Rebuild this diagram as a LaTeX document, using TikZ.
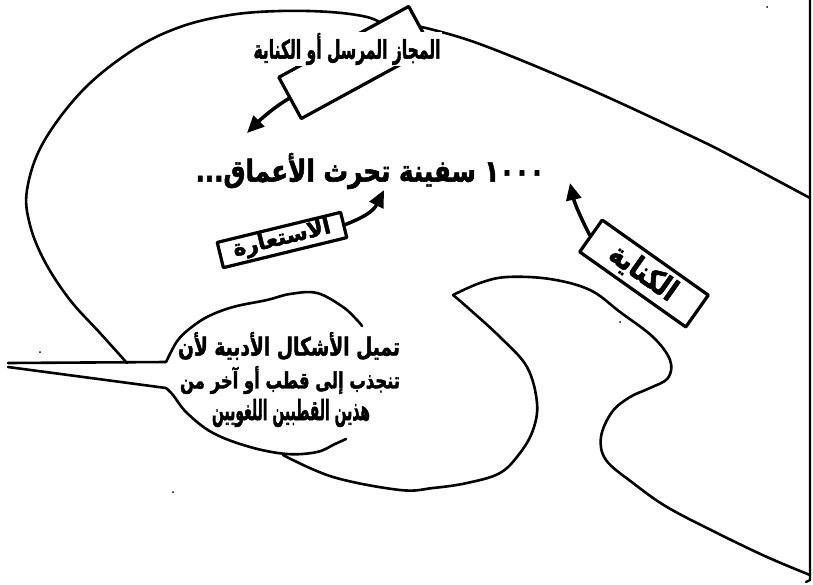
\documentclass[tikz,border=0pt]{standalone}
\usepackage{fontspec}
\usepackage{graphicx}
\usetikzlibrary{arrows.meta}
\newfontfamily\arabicfont[Script=Arabic,BoldFeatures={FakeBold=2}]{DejaVu Sans}
\TeXXeTstate=1
\newcommand\artxt[3]{\resizebox*{#1}{#2}{\arabicfont\bfseries #3}}
\begin{document}
\begin{tikzpicture}[x=1pt,y=-1pt,line join=round,line cap=round,
  curve/.style={line width=2.6pt},
  lblbox/.style={draw,line width=3.2pt,fill=white,inner sep=0pt},
  lbltext/.style={inner sep=0pt},
  arr/.style={line width=3.5pt,-{Triangle[length=17pt,width=15pt]}}]
\useasboundingbox (0,0) rectangle (813,584);
% right border
\draw[line width=2.4pt] (810,0) -- (810,580) -- (806,582);
% outer curve, upper right part
\draw[curve] plot[smooth,tension=0.6] coordinates {(810,198) (733,157) (693,137) (587,88) (477,43) (413,25)};
% outer curve, top and left part
\draw[curve] plot[smooth,tension=0.6] coordinates {(385,25) (367,17) (330,12) (280,11) (230,15) (180,27) (133,50) (83,90) (43,143) (27,190) (30,225) (45,262) (70,300) (100,333) (127,363)};
% bubble tail and bubble
\draw[curve] (8,363) -- (166,362);
\draw[curve] plot[smooth,tension=0.6] coordinates {(166,362) (172,350) (178,340) (188,330) (207,317) (233,307) (267,300) (290,294) (317,293) (343,307) (357,320) (362,326)};
\draw[curve] (8,367) -- (166,388);
\draw[curve] plot[smooth,tension=0.6] coordinates {(166,388) (173,395) (187,413) (213,433) (250,447) (287,454) (317,452) (335,444) (346,439)};
% lower inner curve
\draw[curve] plot[smooth,tension=0.6] coordinates {(283,455) (333,477) (400,490) (433,488) (467,483) (500,473) (520,453) (533,430) (537,403) (527,367) (500,337) (467,307) (453,295)};
\draw[curve] plot[smooth,tension=0.6] coordinates {(453,295) (480,283) (507,277) (550,279) (590,290) (620,312) (653,337) (670,360) (668,378) (650,388) (630,397) (612,412) (601,437) (606,460) (633,483) (667,507) (717,533) (767,557) (810,575)};
% boxes
\node[lblbox,rotate=28.6,minimum width=148pt,minimum height=47pt] (majbox) at (355,62.5) {};
\node[lbltext,fill=white,inner sep=1pt] (maj) at (347,49) {\artxt{187pt}{32pt}{\beginR المجاز المرسل أو الكناية\endR}};
\node[lblbox,rotate=13.7,minimum width=127pt,minimum height=26pt] (istbox) at (282,240) {};
\node[lbltext,rotate=13.7] (ist) at (282,239) {\artxt{100pt}{22pt}{\beginR الاستعارة\endR}};
\node[lblbox,rotate=-35.3,minimum width=130pt,minimum height=39pt] (kinbox) at (644,273.5) {};
\node[lbltext,rotate=-35.3] (kin) at (643,273) {\artxt{76pt}{28pt}{\beginR الكناية\endR}};
% main text
\node[lbltext] (main) at (370,171) {\artxt{349pt}{36pt}{\beginR\beginL ١٠٠٠\endL{}  سفينة تحرث الأعماق...\endR}};
% arrow targets
\coordinate (t1) at (247,133);
\coordinate (t2) at (384,190);
\coordinate (t3) at (570,183);
\draw[arr] (majbox.west) .. controls (276,106) and (262,118) .. (t1);
\draw[arr] (istbox.east) .. controls (362,218) and (373,212) .. (t2);
\draw[arr] (kinbox.west) .. controls (583,222) and (575,205) .. (t3);
% bubble text
\node[lbltext] (b1) at (289,346) {\artxt{222pt}{28pt}{\beginR تميل الأشكال الأدبية لأن\endR}};
\node[lbltext] (b2) at (290,380) {\artxt{220pt}{28pt}{\beginR تنجذب إلى قطب أو آخر من\endR}};
\node[lbltext] (b3) at (291,413) {\artxt{158pt}{28pt}{\beginR هذين القطبين اللغويين\endR}};
% specks
\fill (767,7) circle (1pt);
\fill (620,322) circle (1pt);
\fill (40,352) circle (1pt);
\fill (173,492) circle (1pt);
\end{tikzpicture}
\end{document}
